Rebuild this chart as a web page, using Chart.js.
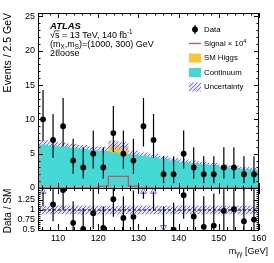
<!DOCTYPE html>
<html>
<head>
<meta charset="utf-8">
<script src="https://cdn.jsdelivr.net/npm/chart.js@4.4.1/dist/chart.umd.min.js"></script>
<style>
  body { margin: 0; background: #fff; }
  #wrap { position: relative; width: 274px; height: 263px; }
  #wrap canvas { position: absolute; left: 0; top: 0; }
</style>
</head>
<body>
<div id="wrap">
  <canvas id="mainChart" width="274" height="263"></canvas>
  <canvas id="ratioChart" width="274" height="263"></canvas>
</div>
<script>
// m_yy bins, 2.5 GeV wide
const binCenters = [106.25, 108.75, 111.25, 113.75, 116.25, 118.75, 121.25, 123.75, 126.25, 128.75, 131.25,
                    133.75, 136.25, 138.75, 141.25, 143.75, 146.25, 148.75, 151.25, 153.75, 156.25, 158.75];
const binHalfWidth = 1.25;

// observed events, with lower / upper edge of the error bar
const dataCounts = [10, 7, 9, 4, 3, 5, 3, 8, 5, 4, 9, 7, 2, 2, 5, 3, 2, 2, 3, 3, 2, 2];
const dataLow = [6.89, 4.42, 6.06, 2.09, 1.37, 2.84, 1.37, 5.23, 2.84, 2.09, 6.06,
                 4.42, 0.71, 0.71, 2.84, 1.37, 0.71, 0.71, 1.37, 1.37, 0.71, 0.71];
const dataHigh = [14.27, 10.77, 13.11, 7.16, 5.92, 8.38, 5.92, 11.95, 8.38, 7.16, 13.11,
                  10.77, 4.64, 4.64, 8.38, 5.92, 4.64, 4.64, 5.92, 5.92, 4.64, 4.64];

// stacked backgrounds
const continuum = [6.3, 6.15, 6.0, 5.85, 5.7, 5.5, 5.4, 5.2, 5.0, 4.85, 4.7,
                   4.5, 4.25, 4.0, 3.8, 3.6, 3.45, 3.3, 3.1, 2.95, 2.8, 2.65];
const smHiggs = [0, 0, 0, 0, 0, 0, 0.05, 1.1, 1.1, 0.12, 0,
                 0, 0, 0, 0, 0, 0, 0, 0, 0, 0, 0];
const bkgUnc = [0.65, 0.64, 0.62, 0.6, 0.58, 0.56, 0.55, 0.6, 0.58, 0.5, 0.48,
                0.46, 0.44, 0.42, 0.4, 0.38, 0.37, 0.35, 0.34, 0.32, 0.31, 0.3];

// signal x 10^4
const signalX1e4 = [0, 0, 0, 0, 0, 0, 0.25, 1.7, 1.7, 0.25, 0,
                    0, 0, 0, 0, 0, 0, 0, 0, 0, 0, 0];

// lower panel: data / SM and the relative uncertainty
const ratioValues = [1.59, 1.14, 1.5, 0.68, 0.53, 0.92, 0.55, 1.27, 0.8, 0.83, 1.9,
                     1.57, 0.47, 0.51, 1.37, 0.84, 0.58, 0.61, 0.98, 1.02, 0.72, 0.76];
const ratioUnc = [0.105, 0.105, 0.105, 0.105, 0.105, 0.105, 0.105, 0.105, 0.105, 0.105, 0.105,
                  0.105, 0.105, 0.105, 0.105, 0.105, 0.105, 0.105, 0.105, 0.105, 0.105, 0.105];

// tick labels
const xTicks = [110, 120, 130, 140, 150, 160];
const yTicks = [0, 5, 10, 15, 20, 25];
const ratioTicks = [0.5, 0.75, 1, 1.25];

const FONT = "'Liberation Sans', Arial, sans-serif";
const CYAN = '#45d9d5';
const GOLD = '#fcc631';
const SIGRED = '#e0456a';
const RMIN = 0.5, RMAX = 1.55;

Chart.defaults.font.family = FONT;
Chart.defaults.color = '#000';

// histogram outline: left edges + closing right edge
function steps(vals) {
  const pts = binCenters.map((c, i) => ({ x: c - binHalfWidth, y: vals[i] }));
  pts.push({ x: binCenters[binCenters.length - 1] + binHalfWidth, y: vals[vals.length - 1] });
  return pts;
}

function hatchPattern() {
  const c = document.createElement('canvas');
  c.width = 4; c.height = 4;
  const g = c.getContext('2d');
  g.fillStyle = 'rgba(205,205,255,0.5)';
  g.fillRect(0, 0, 4, 4);
  g.strokeStyle = '#6c6cff';
  g.lineWidth = 1;
  g.beginPath();
  g.moveTo(0, 4); g.lineTo(4, 0);
  g.moveTo(-1, 1); g.lineTo(1, -1);
  g.moveTo(3, 5); g.lineTo(5, 3);
  g.stroke();
  return g.createPattern(c, 'repeat');
}

// text with sub/superscripts: parts = [[text, shift]], shift -1 sub, 1 sup
function drawParts(ctx, x, y, parts, size, style) {
  let cx = x;
  for (const [t, s] of parts) {
    const fs = s ? size * 0.7 : size;
    ctx.font = (style || '') + ' ' + fs + 'px ' + FONT;
    const dy = s < 0 ? size * 0.3 : (s > 0 ? -size * 0.42 : 0);
    ctx.fillText(t, cx, y + dy);
    cx += ctx.measureText(t).width;
  }
  ctx.font = (style || '') + ' ' + size + 'px ' + FONT;
  return cx;
}

// frame with inward ticks on all sides
function frameTicks(id, xStep, yMajor, yStep, xLen, yLen) {
  return {
    id: id,
    afterDatasetsDraw(chart) {
      const { ctx, chartArea: a, scales: { x, y } } = chart;
      ctx.save();
      ctx.strokeStyle = '#000';
      ctx.lineWidth = 1;
      ctx.beginPath();
      const x0 = Math.ceil(x.min / xStep - 1e-9) * xStep;
      for (let v = x0; v <= x.max + 1e-9; v += xStep) {
        const px = Math.round(x.getPixelForValue(v)) + 0.5;
        const major = xTicks.some(m => Math.abs(m - v) < 1e-6);
        const l = major ? xLen : xLen / 2;
        ctx.moveTo(px, a.bottom); ctx.lineTo(px, a.bottom - l);
        ctx.moveTo(px, a.top); ctx.lineTo(px, a.top + l);
      }
      const y0 = Math.ceil(y.min / yStep - 1e-9) * yStep;
      for (let v = y0; v <= y.max + 1e-9; v += yStep) {
        const py = Math.round(y.getPixelForValue(v)) + 0.5;
        const major = yMajor.some(m => Math.abs(m - v) < 1e-6);
        const l = major ? yLen : yLen / 2;
        ctx.moveTo(a.left, py); ctx.lineTo(a.left + l, py);
        ctx.moveTo(a.right, py); ctx.lineTo(a.right - l, py);
      }
      ctx.stroke();
      ctx.strokeRect(Math.round(a.left) + 0.5, Math.round(a.top) + 0.5,
                     Math.round(a.right - a.left) - 1, Math.round(a.bottom - a.top));
      ctx.restore();
    }
  };
}

const fixedAxes = (w, h) => ({
  afterFit: s => { if (s.isHorizontal()) s.height = h; else s.width = w; }
});

// ---------- main panel ----------
const totalBkg = continuum.map((v, i) => v + smHiggs[i]);

const mainBars = {
  id: 'mainBars',
  beforeDatasetDraw(chart, args) {
    if (args.index !== 0) return;
    const { ctx, chartArea: a, scales: { x, y } } = chart;
    ctx.save();
    ctx.strokeStyle = '#000';
    ctx.lineWidth = 1.2;
    ctx.beginPath();
    binCenters.forEach((c, i) => {
      const px = x.getPixelForValue(c);
      ctx.moveTo(px, Math.min(a.bottom, y.getPixelForValue(dataLow[i])));
      ctx.lineTo(px, Math.max(a.top, y.getPixelForValue(dataHigh[i])));
    });
    ctx.stroke();
    ctx.restore();
  }
};

const mainText = {
  id: 'mainText',
  afterDraw(chart) {
    const ctx = chart.ctx;
    ctx.save();
    ctx.fillStyle = '#000';
    ctx.textBaseline = 'alphabetic';
    ctx.textAlign = 'left';
    // y title
    ctx.save();
    ctx.translate(11, 13);
    ctx.rotate(-Math.PI / 2);
    ctx.textAlign = 'right';
    ctx.font = '10.5px ' + FONT;
    ctx.fillText('Events / 2.5 GeV', 0, 0);
    ctx.restore();

    // ATLAS label block
    ctx.font = 'bold italic 9.5px ' + FONT;
    ctx.fillText('ATLAS', 50, 28.5);
    ctx.font = '9px ' + FONT;
    const wRoot = ctx.measureText('\u221A').width;
    const wS = ctx.measureText('s').width;
    drawParts(ctx, 50, 37.5, [['\u221As = 13 TeV, 140 fb', 0], ['-1', 1]], 9);
    ctx.strokeStyle = '#000';
    ctx.lineWidth = 0.7;
    ctx.beginPath();
    ctx.moveTo(50 + wRoot - 0.5, 30.8);
    ctx.lineTo(50 + wRoot + wS, 30.8);
    ctx.stroke();
    drawParts(ctx, 50, 46.5, [['(m', 0], ['X', -1], [',m', 0], ['S', -1], [')=(1000, 300) GeV', 0]], 9);
    drawParts(ctx, 50, 55.5, [['2\u2113loose', 0]], 9);

    // legend
    const lx = 189, lw = 12, tx = 204;
    ctx.textBaseline = 'middle';
    ctx.strokeStyle = '#000';
    ctx.lineWidth = 1.2;
    ctx.beginPath();
    ctx.moveTo(lx + lw / 2, 25); ctx.lineTo(lx + lw / 2, 34);
    ctx.stroke();
    ctx.beginPath();
    ctx.arc(lx + lw / 2, 29.5, 2.9, 0, Math.PI * 2);
    ctx.fill();
    ctx.font = '7.8px ' + FONT;
    ctx.fillText('Data', tx, 29.5);
    ctx.strokeStyle = SIGRED;
    ctx.lineWidth = 1.3;
    ctx.beginPath();
    ctx.moveTo(lx, 43.5); ctx.lineTo(lx + lw, 43.5);
    ctx.stroke();
    ctx.textBaseline = 'alphabetic';
    drawParts(ctx, tx, 46.3, [['Signal \u00D7 10', 0], ['4', 1]], 7.8);
    ctx.textBaseline = 'middle';
    ctx.fillStyle = GOLD;
    ctx.fillRect(lx, 53.5, lw, 9);
    ctx.fillStyle = '#000';
    ctx.font = '7.8px ' + FONT;
    ctx.fillText('SM Higgs', tx, 58);
    ctx.fillStyle = CYAN;
    ctx.fillRect(lx, 68, lw, 9);
    ctx.fillStyle = '#000';
    ctx.fillText('Continuum', tx, 72.5);
    ctx.fillStyle = hatchPattern();
    ctx.fillRect(lx, 82.5, lw, 9);
    ctx.fillStyle = '#000';
    ctx.fillText('Uncertainty', tx, 87);
    ctx.restore();
  }
};

const lineStyle = { stepped: true, pointRadius: 0, borderColor: 'rgba(0,0,0,0)', borderWidth: 0 };

// draw order: SM Higgs stack, then uncertainty band, then continuum on top of it
new Chart(document.getElementById('mainChart'), {
  type: 'line',
  data: {
    datasets: [
      { label: 'Data', data: binCenters.map((c, i) => ({ x: c, y: dataCounts[i] })), showLine: false,
        pointRadius: 2.9, pointBackgroundColor: '#000', pointBorderWidth: 0, order: 0 },
      { label: 'Signal x 10^4', data: steps(signalX1e4), stepped: true, pointRadius: 0,
        borderColor: SIGRED, borderWidth: 1.3, fill: false, order: 1 },
      { label: 'Uncertainty up', data: steps(totalBkg.map((v, i) => v + bkgUnc[i])), ...lineStyle,
        fill: '+1', backgroundColor: hatchPattern(), order: 3 },
      { label: 'Uncertainty down', data: steps(totalBkg.map((v, i) => v - bkgUnc[i])), ...lineStyle,
        fill: false, order: 3 },
      { label: 'Continuum', data: steps(continuum), ...lineStyle, fill: 'origin', backgroundColor: CYAN, order: 2 },
      { label: 'SM Higgs', data: steps(totalBkg), ...lineStyle, fill: 'origin', backgroundColor: GOLD, order: 4 }
    ]
  },
  options: {
    responsive: false,
    animation: false,
    events: [],
    layout: { padding: { top: 13, right: 15, bottom: 75, left: 0 } },
    plugins: { legend: { display: false }, tooltip: { enabled: false } },
    scales: {
      x: { type: 'linear', min: 105, max: 160, display: false },
      y: {
        type: 'linear', min: 0, max: 25.5,
        grid: { display: false, drawTicks: false },
        border: { display: false },
        ticks: { padding: 3, font: { size: 9 }, callback: v => String(v) },
        afterBuildTicks: s => { s.ticks = yTicks.map(v => ({ value: v })); },
        ...fixedAxes(38, 0)
      }
    }
  },
  plugins: [mainBars, frameTicks('mainFrame', 2, yTicks, 1, 5, 5), mainText]
});

// ---------- ratio panel ----------
const inRange = ratioValues.map(r => r >= RMIN && r <= RMAX);
const arrowPos = ratioValues.map(r => (r > RMAX ? RMAX - 0.09 : (r < RMIN ? RMIN + 0.07 : null)));

const ratioBars = {
  id: 'ratioBars',
  beforeDatasetDraw(chart, args) {
    if (args.index !== 0) return;
    const { ctx, scales: { x, y } } = chart;
    ctx.save();
    ctx.strokeStyle = '#000';
    ctx.lineWidth = 1.2;
    ctx.beginPath();
    binCenters.forEach((c, i) => {
      const r = ratioValues[i];
      let lo = r * dataLow[i] / dataCounts[i];
      let hi = r * dataHigh[i] / dataCounts[i];
      if (r > RMAX) hi = arrowPos[i];
      if (r < RMIN) lo = arrowPos[i];
      lo = Math.max(lo, RMIN); hi = Math.min(hi, RMAX);
      if (hi <= lo) return;
      const px = x.getPixelForValue(c);
      ctx.moveTo(px, y.getPixelForValue(lo));
      ctx.lineTo(px, y.getPixelForValue(hi));
    });
    ctx.stroke();
    ctx.restore();
  }
};

const ratioText = {
  id: 'ratioText',
  afterDraw(chart) {
    const ctx = chart.ctx;
    ctx.save();
    ctx.fillStyle = '#000';
    ctx.save();
    ctx.translate(11, 211);
    ctx.rotate(-Math.PI / 2);
    ctx.textAlign = 'center';
    ctx.font = '10px ' + FONT;
    ctx.fillText('Data / SM', 0, 0);
    ctx.restore();
    // x title, right aligned
    const parts = [['m', 0], ['\u03B3\u03B3', -1], [' [GeV]', 0]];
    let w = 0;
    parts.forEach(([t, s]) => { ctx.font = (s ? 9 * 0.7 : 9) + 'px ' + FONT; w += ctx.measureText(t).width; });
    drawParts(ctx, 268 - w, 253.5, parts, 9);
    ctx.restore();
  }
};

new Chart(document.getElementById('ratioChart'), {
  type: 'line',
  data: {
    datasets: [
      { label: 'Data / SM', data: binCenters.map((c, i) => ({ x: c, y: inRange[i] ? ratioValues[i] : null })),
        showLine: false, pointRadius: 2.9, pointBackgroundColor: '#000', pointBorderWidth: 0, order: 0 },
      { label: 'Out of range', data: binCenters.map((c, i) => ({ x: c, y: arrowPos[i] })),
        showLine: false, pointStyle: 'triangle', pointRadius: 3.4, pointBorderWidth: 1,
        pointBorderColor: '#6a6af5', pointBackgroundColor: 'rgba(255,255,255,0)',
        pointRotation: ratioValues.map(r => (r < RMIN ? 180 : 0)), order: 0 },
      { label: 'Unity', data: [{ x: 105, y: 1 }, { x: 160, y: 1 }], pointRadius: 0,
        borderColor: '#000', borderWidth: 1, borderDash: [3, 2], fill: false, order: 1 },
      { label: 'Band up', data: steps(ratioUnc.map(u => 1 + u)), ...lineStyle,
        fill: '+1', backgroundColor: hatchPattern(), order: 2 },
      { label: 'Band down', data: steps(ratioUnc.map(u => 1 - u)), ...lineStyle, fill: false, order: 2 }
    ]
  },
  options: {
    responsive: false,
    animation: false,
    events: [],
    layout: { padding: { top: 188, right: 15, bottom: 0, left: 0 } },
    plugins: { legend: { display: false }, tooltip: { enabled: false } },
    scales: {
      x: {
        type: 'linear', min: 105, max: 160,
        grid: { display: false, drawTicks: false },
        border: { display: false },
        ticks: { padding: 3, font: { size: 9 }, maxRotation: 0, callback: v => String(v) },
        afterBuildTicks: s => { s.ticks = xTicks.map(v => ({ value: v })); },
        ...fixedAxes(38, 33)
      },
      y: {
        type: 'linear', min: RMIN, max: RMAX,
        grid: { display: false, drawTicks: false },
        border: { display: false },
        ticks: { padding: 3, font: { size: 9 }, callback: v => String(v) },
        afterBuildTicks: s => { s.ticks = ratioTicks.map(v => ({ value: v })); },
        ...fixedAxes(38, 33)
      }
    }
  },
  plugins: [ratioBars, frameTicks('ratioFrame', 2, ratioTicks, 0.05, 6, 5), ratioText]
});
</script>
</body>
</html>
